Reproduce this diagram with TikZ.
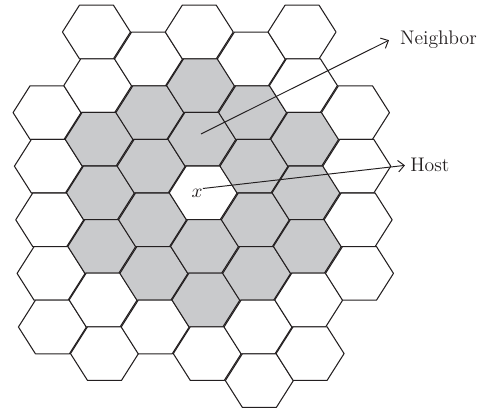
\documentclass[tikz,border=0pt]{standalone}
\usetikzlibrary{arrows.meta}
\definecolor{ink}{HTML}{231F20}
\definecolor{cellgray}{HTML}{C9CACC}

\begin{document}
\begin{tikzpicture}[x=0.02cm,y=-0.02cm,text=ink,
    font=\fontsize{11.2}{13}\selectfont,
    >={Straight Barb[length=3.5pt,width=6.5pt]}]
  \useasboundingbox (0,0) rectangle (485,408);
  \tikzset{cell/.style={draw=ink,line width=.6pt,line join=round}}

  % columns: index / top offset / cells (row/fill)
  \foreach \i/\yo/\cells in {
      0/59/{1/white,2/white,3/white,4/white,5/white},
      1/32/{0/white,1/white,2/cellgray,3/cellgray,4/cellgray,5/white,6/white},
      2/59/{0/white,1/cellgray,2/cellgray,3/cellgray,4/cellgray,5/white},
      3/32/{0/white,1/cellgray,2/cellgray,3/white,4/cellgray,5/cellgray,6/white},
      4/59/{0/white,1/cellgray,2/cellgray,3/cellgray,4/cellgray,5/white,6/white},
      5/32/{0/white,1/white,2/cellgray,3/cellgray,4/cellgray,5/white,6/white},
      6/59/{1/white,2/white,3/white,4/white}}{
    \foreach \k/\f in \cells{
      \pgfmathsetmacro{\cy}{\yo+53.6*\k}
      \pgfmathsetmacro{\cx}{49+51.4*\i+0.025*(\cy-190)}
      \filldraw[cell,fill=\f] (\cx-34,\cy)--(\cx-17,\cy-26.8)
        --(\cx+17,\cy-26.8)--(\cx+34,\cy)--(\cx+17,\cy+26.8)
        --(\cx-17,\cy+26.8)--cycle;
    }
  }

  \coordinate (nbrcell) at (201,134);
  \node[inner sep=0] (xlbl) at (197,193) {$x$};
  \node[anchor=base west,inner xsep=6.2pt] (nbr) at (389,45) {Neighbor};
  \node[anchor=base west,inner xsep=2.8pt] (host) at (405,172) {Host};

  \draw[->,ink,line width=.55pt] (nbrcell) -- (nbr.west);
  \draw[->,ink,line width=.55pt] (xlbl.north east) -- (host.west);
\end{tikzpicture}
\end{document}
